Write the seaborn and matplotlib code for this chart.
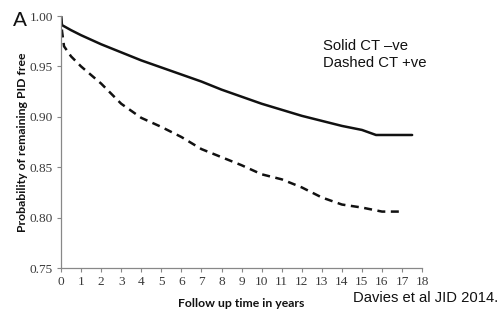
import matplotlib
matplotlib.use("Agg")
import matplotlib.pyplot as plt
import seaborn as sns
import pandas as pd

# Data
years_neg = [0, 0.05, 0.5, 1, 2, 3, 4, 5, 6, 7, 8, 9, 10, 11, 12, 13, 14, 15, 15.7, 17.5]
surv_neg = [1.0, 0.991, 0.986, 0.981, 0.972, 0.964, 0.956, 0.949, 0.942, 0.935,
            0.927, 0.920, 0.913, 0.907, 0.901, 0.896, 0.891, 0.887, 0.882, 0.882]
years_pos = [0, 0.05, 0.15, 0.5, 1, 2, 3, 4, 5, 6, 7, 8, 9, 10, 11, 12, 13, 14, 15, 16, 16.9]
surv_pos = [1.0, 0.985, 0.970, 0.960, 0.950, 0.933, 0.913, 0.899, 0.890, 0.880, 0.868,
            0.860, 0.852, 0.843, 0.838, 0.830, 0.820, 0.813, 0.810, 0.806, 0.806]

df = pd.concat([
    pd.DataFrame({"year": years_neg, "p": surv_neg, "group": "CT -ve"}),
    pd.DataFrame({"year": years_pos, "p": surv_pos, "group": "CT +ve"}),
])

sns.set_theme(style="white")
fig = plt.figure(figsize=(5.03, 3.21), dpi=100)
ax = fig.add_axes([0.1213, 0.165, 0.718, 0.785])

sns.lineplot(data=df, x="year", y="p", hue="group", style="group",
             palette={"CT -ve": "#111111", "CT +ve": "#111111"},
             dashes={"CT -ve": "", "CT +ve": (3.2, 2.2)},
             linewidth=1.8, sort=False, estimator=None, legend=False, ax=ax)

ax.set_xlim(0, 18)
ax.set_ylim(0.75, 1.0)
ax.set_xticks(range(0, 19))
ax.set_yticks([0.75, 0.80, 0.85, 0.90, 0.95, 1.00])
ax.set_yticklabels(["0.75", "0.80", "0.85", "0.90", "0.95", "1.00"])
for lab in ax.get_xticklabels() + ax.get_yticklabels():
    lab.set_fontfamily("Liberation Serif")
    lab.set_fontsize(9.6)
    lab.set_color("#3a3a3a")
ax.tick_params(axis="both", which="both", direction="out", length=3, width=0.8,
               color="#888888", bottom=True, left=True, pad=3)
for s in ["top", "right"]:
    ax.spines[s].set_visible(False)
for s in ["left", "bottom"]:
    ax.spines[s].set_color("#888888")
    ax.spines[s].set_linewidth(0.9)

ax.set_xlabel("Follow up time in years", fontfamily="Lato", fontweight="bold",
              fontsize=8.8, color="#111111", labelpad=7)
ax.set_ylabel("Probability of remaining PID free", fontfamily="Lato", fontweight="bold",
              fontsize=8.8, color="#111111")
ax.yaxis.set_label_coords(-0.092, 0.5)

fig.text(0.643, 0.857, "Solid CT \u2013ve", fontfamily="Liberation Sans", fontsize=10.7,
         color="#111111", ha="left", va="center")
fig.text(0.643, 0.803, "Dashed CT +ve", fontfamily="Liberation Sans", fontsize=10.7,
         color="#111111", ha="left", va="center")
fig.text(0.702, 0.072, "Davies et al JID 2014.", fontfamily="Liberation Sans", fontsize=10.6,
         color="#111111", ha="left", va="center")
fig.text(0.025, 0.935, "A", fontfamily="Liberation Sans", fontsize=15,
         color="#111111", ha="left", va="center")

fig.savefig("out.png", dpi=100)
